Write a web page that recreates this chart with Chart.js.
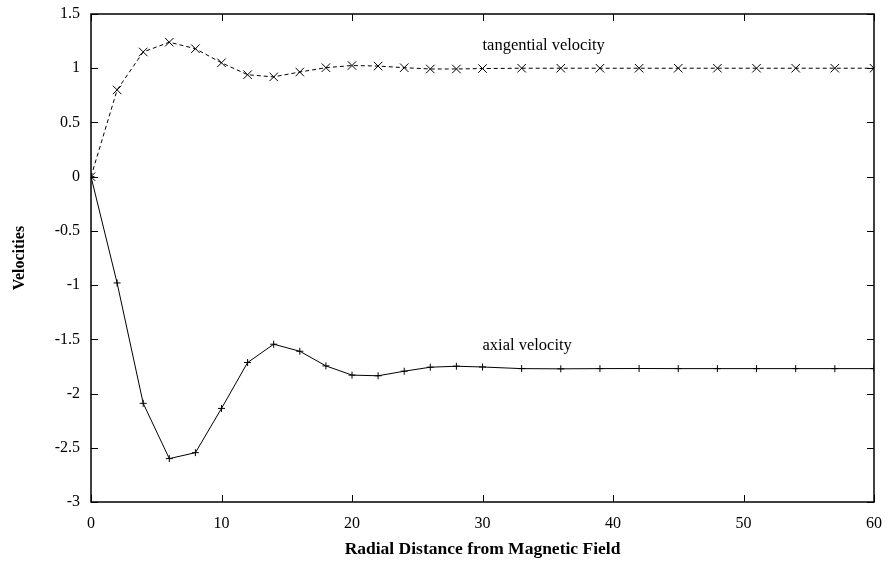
<!doctype html>
<html lang="en">
    <head>
        <meta charset="UTF-8" />
        <title>Velocities</title>
        <script src="https://cdn.jsdelivr.net/npm/chart.js"></script>
        <style>
            html, body {
                margin: 0;
                padding: 0;
                background: #fff;
            }
            #chart-container {
                width: 889px;
                height: 563px;
            }
        </style>
    </head>
    <body>
        <div id="chart-container">
            <canvas id="velChart"></canvas>
        </div>

        <script>
            const radialDistance = [0, 2, 4, 6, 8, 10, 12, 14, 16, 18, 20, 22, 24, 26, 28, 30, 33, 36, 39, 42, 45, 48, 51, 54, 57, 60];
            const tangentialVelocity = [0, 0.80, 1.15, 1.24, 1.18, 1.05, 0.94, 0.92, 0.965, 1.005, 1.025, 1.02, 1.005, 0.993, 0.993, 0.997, 1.0, 1.0, 1.0, 1.0, 1.0, 1.0, 1.0, 1.0, 1.0, 1.0];
            const axialVelocity = [0, -0.98, -2.09, -2.6, -2.545, -2.137, -1.714, -1.545, -1.61, -1.745, -1.83, -1.836, -1.794, -1.757, -1.748, -1.755, -1.77, -1.772, -1.77, -1.769, -1.77, -1.77, -1.77, -1.77, -1.77, -1.77];
            const xTicks = [0, 10, 20, 30, 40, 50, 60];
            const yTicks = [1.5, 1, 0.5, 0, -0.5, -1, -1.5, -2, -2.5, -3];
            const seriesLabels = ["tangential velocity", "axial velocity"];
            // where the curve labels sit, in data units
            const labelAnchors = [[30, 1.21], [30, -1.56]];

            const serif = "'Liberation Serif', 'Times New Roman', serif";

            function toPoints(xs, ys) {
                return xs.map((x, i) => ({ x: x, y: ys[i] }));
            }

            // frame, inward ticks on all four sides, and curve labels
            const framePlugin = {
                id: "frame",
                afterDatasetsDraw(chart) {
                    const { ctx, chartArea: a, scales } = chart;
                    ctx.save();
                    ctx.strokeStyle = "#000";
                    ctx.lineWidth = 1;
                    ctx.beginPath();
                    const tl = 7;
                    xTicks.forEach((v) => {
                        const px = Math.round(scales.x.getPixelForValue(v)) + 0.5;
                        ctx.moveTo(px, a.bottom);
                        ctx.lineTo(px, a.bottom - tl);
                        ctx.moveTo(px, a.top);
                        ctx.lineTo(px, a.top + tl);
                    });
                    yTicks.forEach((v) => {
                        const py = Math.round(scales.y.getPixelForValue(v)) + 0.5;
                        ctx.moveTo(a.left, py);
                        ctx.lineTo(a.left + tl, py);
                        ctx.moveTo(a.right, py);
                        ctx.lineTo(a.right - tl, py);
                    });
                    ctx.stroke();
                    ctx.lineWidth = 1.5;
                    ctx.strokeRect(a.left, a.top, a.right - a.left, a.bottom - a.top);

                    ctx.fillStyle = "#000";
                    ctx.font = "16.5px " + serif;
                    ctx.textAlign = "left";
                    ctx.textBaseline = "middle";
                    seriesLabels.forEach((txt, i) => {
                        const p = labelAnchors[i];
                        ctx.fillText(txt, scales.x.getPixelForValue(p[0]), scales.y.getPixelForValue(p[1]));
                    });
                    ctx.restore();
                },
            };

            const ctx = document.getElementById("velChart").getContext("2d");
            new Chart(ctx, {
                type: "scatter",
                data: {
                    datasets: [
                        {
                            label: seriesLabels[0],
                            data: toPoints(radialDistance, tangentialVelocity),
                            showLine: true,
                            borderColor: "#000",
                            backgroundColor: "#000",
                            borderWidth: 1,
                            borderDash: [4, 3],
                            pointStyle: "crossRot",
                            pointRadius: 6,
                            pointBorderWidth: 1,
                            pointBorderColor: "#000",
                        },
                        {
                            label: seriesLabels[1],
                            data: toPoints(radialDistance, axialVelocity),
                            showLine: true,
                            borderColor: "#000",
                            backgroundColor: "#000",
                            borderWidth: 1,
                            pointStyle: "cross",
                            pointRadius: 3.5,
                            pointBorderWidth: 1,
                            pointBorderColor: "#000",
                        },
                    ],
                },
                options: {
                    responsive: true,
                    maintainAspectRatio: false,
                    animation: false,
                    layout: { padding: { top: 14, right: 15, left: 0, bottom: 0 } },
                    plugins: {
                        legend: { display: false },
                        tooltip: { enabled: false },
                    },
                    scales: {
                        x: {
                            type: "linear",
                            min: 0,
                            max: 60,
                            afterBuildTicks: (s) => {
                                s.ticks = xTicks.map((v) => ({ value: v }));
                            },
                            afterFit: (s) => {
                                s.height = 61;
                                s.paddingLeft = 0;
                                s.paddingRight = 0;
                            },
                            grid: { display: false, drawTicks: false },
                            border: { display: false },
                            ticks: {
                                color: "#000",
                                padding: 12,
                                maxRotation: 0,
                                font: { family: serif, size: 16 },
                                callback: (v) => String(v),
                            },
                            title: {
                                display: true,
                                text: "Radial Distance from Magnetic Field",
                                color: "#000",
                                font: { family: serif, size: 17.5, weight: "bold" },
                                padding: { top: 3, bottom: 3 },
                            },
                        },
                        y: {
                            type: "linear",
                            min: -3,
                            max: 1.5,
                            afterBuildTicks: (s) => {
                                s.ticks = yTicks.map((v) => ({ value: v }));
                            },
                            afterFit: (s) => {
                                s.width = 91;
                                s.paddingTop = 0;
                                s.paddingBottom = 0;
                            },
                            grid: { display: false, drawTicks: false },
                            border: { display: false },
                            ticks: {
                                color: "#000",
                                padding: 11,
                                font: { family: serif, size: 16 },
                                callback: (v) => String(v),
                            },
                            title: {
                                display: true,
                                text: "Velocities",
                                color: "#000",
                                font: { family: serif, size: 16, weight: "bold" },
                                padding: { top: 10, bottom: 10 },
                            },
                        },
                    },
                },
                plugins: [framePlugin],
            });
        </script>
    </body>
</html>
